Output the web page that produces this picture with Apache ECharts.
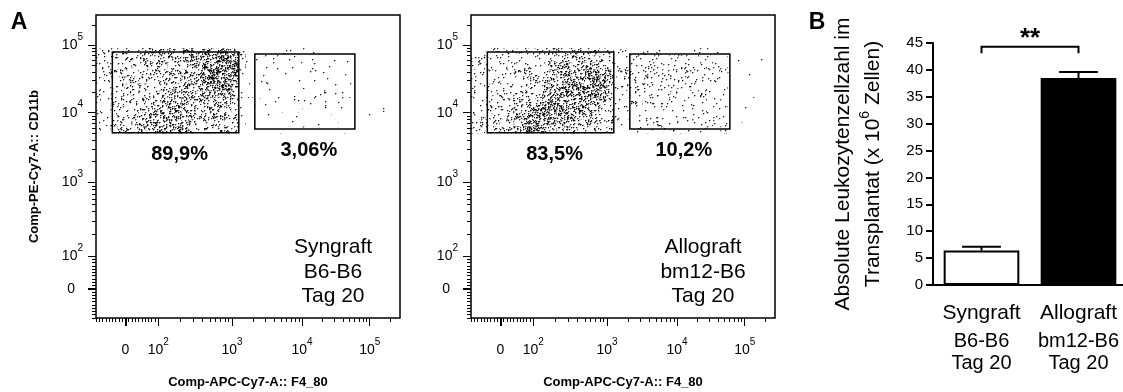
<!DOCTYPE html>
<html>
<head>
<meta charset="utf-8">
<script src="https://cdn.jsdelivr.net/npm/echarts@6.0.0/dist/echarts.min.js"></script>
<style>
html, body { margin: 0; padding: 0; background: #fff; }
#main { width: 1123px; height: 392px; }
</style>
</head>
<body>
<div id="main"></div>
<script>
const FONT = '"Liberation Sans", Arial, Helvetica, sans-serif';

// flow plots, display channels 0-1024 (biexponential scale)
let flowTicks = [99, 209.6, 458, 694, 922];
let flowExp = [0, 2, 3, 4, 5];
let gates = [[55, 481, 626, 899], [535, 872, 639, 892]];
let synPct = ['89,9%', '3,06%'];
let alloPct = ['83,5%', '10,2%'];

// dot density: one digit per 24x24 channel cell, rows from top
let synRows = [
  '33 44444 455556 66 77776 2 1 1 1111111111111 000000',
  '33 43444 445556 67 88997 2 1 1 1111111111111 000000',
  '33 34344 444555 67 89998 2 1 1 1111111111111 000000',
  '23 33434 445556 67 89999 2 1 0 1111111111111 000000',
  '32 34343 445556 67 89998 2 1 1 1111111111111 000000',
  '22 33434 445566 77 88987 2 1 0 1111111111111 000000',
  '22 33343 455666 66 77876 1 1 0 1111111111111 000000',
  '22 33434 556667 66 66765 1 0 0 1011111101110 000000',
  '21 34344 566776 65 55654 1 0 1 1010101101010 000010',
  '22 34445 667776 65 55554 1 0 0 0101010010100 001000',
  '22 44455 677776 55 54544 1 0 0 0100100010010 000000',
  '21 45556 777766 65 55444 0 0 0 0010001000110 000000'
];
let alloRows = [
  '22 33333 333444 44 44433 2 2 1 1212121212111 000100',
  '22 23333 333344 55 55543 2 2 2 3333333332222 010010',
  '32 33333 333445 66 67653 2 2 2 3333333332222 001000',
  '22 23323 334456 67 78875 2 3 3 3333333333222 100100',
  '22 23333 344456 78 89985 3 3 3 3333333332222 010010',
  '22 33332 344567 88 99985 3 3 3 3333333332222 001000',
  '22 23333 445677 88 89875 2 2 2 3333322232222 000101',
  '22 33344 456788 88 87764 2 2 2 2333222222222 010000',
  '22 33445 567888 77 76654 2 2 2 2222222222222 001000',
  '32 34455 678887 76 65544 2 1 2 2222222222222 000100',
  '33 44556 778876 66 55444 2 1 1 2222222222212 001000',
  '33 45667 888876 55 44443 1 1 1 2121212122112 000000'
];

// bar chart B
let groups = ['Syngraft', 'Allograft'];
let donors = ['B6-B6', 'bm12-B6'];
let days = ['Tag 20', 'Tag 20'];
let means = [6.4, 38.5];
let sems = [0.7, 1.1];
let sig = [[0, 44.3, 1, 1.2]];
let sigText = '**';

const CELL = 24;
const CELL_TOP = 912;

let majorTicks = [97, 99, 101].concat(flowTicks.slice(1));
let minorTicks = [];
for (let k = 1; k <= 9; k++) {
  minorTicks.push(flowTicks[0] - k * 11, flowTicks[0] + k * 11.06);
}
for (let i = 1; i < flowTicks.length; i++) {
  let span = (i < flowTicks.length - 1 ? flowTicks[i + 1] : flowTicks[i] + 228) - flowTicks[i];
  for (let k = 2; k <= 9; k++) {
    let t = flowTicks[i] + Math.log10(k) * span;
    if (t < 1024) minorTicks.push(t);
  }
}

// dot textures, one per density level
let dotRate = [0, 0.012, 0.03, 0.058, 0.095, 0.135, 0.18, 0.24, 0.31, 0.39];
let patterns = dotRate.map((r, lv) => {
  let c = document.createElement('canvas');
  c.width = 101;
  c.height = 89;
  let ctx = c.getContext('2d');
  let s = 12345 + lv * 7919;
  let rnd = () => (s = (Math.imul(s, 1664525) + 1013904223) >>> 0) / 4294967296;
  let n = Math.round(r * c.width * c.height);
  for (let k = 0; k < n; k++) {
    let x = Math.floor(rnd() * c.width);
    let y = Math.floor(rnd() * c.height);
    ctx.fillStyle = 'rgba(0,0,0,0.32)';
    ctx.fillRect(x + 1, y, 1, 1);
    ctx.fillRect(x, y + 1, 1, 1);
    ctx.fillStyle = 'rgba(0,0,0,0.88)';
    ctx.fillRect(x, y, 1, 1);
  }
  return { image: c, repeat: 'repeat' };
});

function dotSeries(rows, ax) {
  let data = [];
  rows.forEach((row, j) => {
    row = row.replace(/ /g, '');
    for (let i = 0; i < row.length; i++) {
      let lv = +row[i];
      if (lv) data.push([i * CELL, CELL_TOP - j * CELL, lv]);
    }
  });
  return {
    type: 'custom', xAxisIndex: ax, yAxisIndex: ax, silent: true, clip: true,
    encode: { x: 0, y: 1 },
    data: data,
    renderItem: (p, api) => {
      let a = api.coord([api.value(0), api.value(1)]);
      let b = api.coord([api.value(0) + CELL, api.value(1) - CELL]);
      return {
        type: 'rect',
        shape: { x: a[0], y: a[1], width: b[0] - a[0], height: b[1] - a[1] },
        style: { fill: patterns[api.value(2)] }
      };
    }
  };
}

function gateSeries(pct, ax) {
  return {
    type: 'custom', xAxisIndex: ax, yAxisIndex: ax, silent: true, clip: false,
    encode: { x: [0, 1], y: [2, 3] },
    data: gates,
    renderItem: (p, api) => {
      let a = api.coord([api.value(0), api.value(3)]);
      let b = api.coord([api.value(1), api.value(2)]);
      return {
        type: 'group',
        children: [{
          type: 'rect',
          shape: { x: a[0], y: a[1], width: b[0] - a[0], height: b[1] - a[1] },
          style: { fill: 'none', stroke: '#000', lineWidth: 1.5 }
        }, {
          type: 'text',
          style: {
            text: pct[p.dataIndex], x: (a[0] + b[0]) / 2 + 4, y: b[1] + 22,
            align: 'center', verticalAlign: 'middle', fill: '#000',
            font: 'bold 20px ' + FONT
          }
        }]
      };
    }
  };
}

function tickText(v) {
  let k = flowTicks.findIndex(t => Math.abs(t - v) < 0.01);
  return flowExp[k] ? '{b|10}{s|' + flowExp[k] + '}' : '{z|0}';
}

function richFlow(padZero) {
  return {
    b: { fontSize: 14, lineHeight: 26, verticalAlign: 'middle', fontFamily: FONT, color: '#000' },
    s: { fontSize: 10, lineHeight: 10, verticalAlign: 'top', fontFamily: FONT, color: '#000' },
    z: { fontSize: 14, lineHeight: 26, verticalAlign: 'middle', fontFamily: FONT, color: '#000', padding: [0, padZero, 0, 0] }
  };
}

let nameStyle = { fontFamily: FONT, fontWeight: 'bold', fontSize: 13, color: '#000' };

function flowAxes(g, dim, name) {
  let isX = dim === 'x';
  return [{
    type: 'value', gridIndex: g, min: 0, max: 1024, position: isX ? 'bottom' : 'left',
    axisLine: { show: false, onZero: false },
    splitLine: { show: false },
    axisTick: { show: true, length: 8, customValues: majorTicks, lineStyle: { color: '#000', width: 1 } },
    axisLabel: {
      show: true, customValues: flowTicks, margin: isX ? 19 : 13, formatter: tickText,
      rich: richFlow(isX ? 0 : 8)
    },
    name: name, nameLocation: 'middle', nameGap: isX ? 58 : 55, nameMoveOverlap: false,
    nameTextStyle: nameStyle
  }, {
    type: 'value', gridIndex: g, min: 0, max: 1024, position: isX ? 'bottom' : 'left',
    axisLine: { show: false, onZero: false },
    splitLine: { show: false },
    axisLabel: { show: false },
    axisTick: { show: true, length: 4, customValues: minorTicks, lineStyle: { color: '#000', width: 1 } }
  }];
}

let chart = echarts.init(document.getElementById('main'));
let frame = { show: true, borderColor: '#000', borderWidth: 1.5, backgroundColor: 'transparent', containLabel: false, outerBoundsMode: 'none' };

chart.setOption({
  animation: false,
  backgroundColor: '#fff',
  textStyle: { fontFamily: FONT, color: '#000' },
  grid: [
    Object.assign({ left: 96, top: 15, width: 304, height: 303 }, frame),
    Object.assign({ left: 471, top: 15, width: 304, height: 303 }, frame),
    { left: 933, top: 43, width: 194, height: 242, containLabel: false, outerBoundsMode: 'none' }
  ],
  xAxis: flowAxes(0, 'x', 'Comp-APC-Cy7-A:: F4_80')
    .concat(flowAxes(1, 'x', 'Comp-APC-Cy7-A:: F4_80'))
    .concat([{
      type: 'category', gridIndex: 2, data: groups,
      axisLine: { lineStyle: { color: '#000', width: 2 } },
      axisTick: { alignWithLabel: true, length: 8, lineStyle: { color: '#000', width: 2 } },
      axisLabel: {
        interval: 0, margin: 12,
        formatter: (v, i) => '{a|' + v + '}\n{b|' + donors[i] + '}\n{c|' + days[i] + '}',
        rich: {
          a: { fontSize: 21, lineHeight: 32, fontFamily: FONT, color: '#000' },
          b: { fontSize: 20, lineHeight: 25, fontFamily: FONT, color: '#000' },
          c: { fontSize: 20, lineHeight: 18, fontFamily: FONT, color: '#000' }
        }
      },
      splitLine: { show: false }
    }]),
  yAxis: flowAxes(0, 'y', 'Comp-PE-Cy7-A:: CD11b')
    .concat(flowAxes(1, 'y', ''))
    .concat([{
      type: 'value', gridIndex: 2, min: 0, max: 45, interval: 5,
      axisLine: { show: true, lineStyle: { color: '#000', width: 2 } },
      axisTick: { show: true, length: 7, lineStyle: { color: '#000', width: 2 } },
      axisLabel: { margin: 10, fontSize: 15, color: '#000', fontFamily: FONT },
      splitLine: { show: false },
      name: 'Absolute Leukozytenzellzahl im\nTransplantat (x 10{s|6} Zellen)',
      nameLocation: 'middle', nameRotate: 90, nameGap: 45, nameMoveOverlap: false,
      nameTextStyle: {
        fontSize: 21, lineHeight: 30, fontFamily: FONT, color: '#000',
        rich: { s: { fontSize: 14, lineHeight: 16, verticalAlign: 'top', fontFamily: FONT, color: '#000' } }
      }
    }]),
  graphic: [
    { type: 'text', x: 19, y: 23, style: { text: 'A', font: 'bold 23px ' + FONT, align: 'center', verticalAlign: 'middle', fill: '#000' } },
    { type: 'text', x: 817, y: 23, style: { text: 'B', font: 'bold 23px ' + FONT, align: 'center', verticalAlign: 'middle', fill: '#000' } },
    { type: 'text', x: 333, y: 272, style: { text: 'Syngraft\nB6-B6\nTag 20', font: '21px ' + FONT, lineHeight: 24.5, align: 'center', verticalAlign: 'middle', fill: '#000' } },
    { type: 'text', x: 703, y: 272, style: { text: 'Allograft\nbm12-B6\nTag 20', font: '21px ' + FONT, lineHeight: 24.5, align: 'center', verticalAlign: 'middle', fill: '#000' } }
  ],
  series: [
    dotSeries(synRows, 0),
    gateSeries(synPct, 0),
    dotSeries(alloRows, 2),
    gateSeries(alloPct, 2),
    {
      type: 'bar', xAxisIndex: 4, yAxisIndex: 4, barWidth: '78%', silent: true,
      data: means.map((v, i) => ({
        value: v,
        itemStyle: { color: i ? '#000' : '#fff', borderColor: '#000', borderWidth: 2 }
      }))
    },
    {
      type: 'custom', xAxisIndex: 4, yAxisIndex: 4, silent: true, clip: false,
      encode: { x: 0, y: 1 },
      data: means.map((v, i) => [i, v, sems[i]]),
      renderItem: (p, api) => {
        let base = api.coord([api.value(0), api.value(1)]);
        let top = api.coord([api.value(0), api.value(1) + api.value(2)]);
        let hw = api.size([1, 0])[0] * 0.2;
        return {
          type: 'group',
          children: [
            { type: 'line', shape: { x1: base[0], y1: base[1], x2: top[0], y2: top[1] }, style: { stroke: '#000', lineWidth: 2 } },
            { type: 'line', shape: { x1: top[0] - hw, y1: top[1], x2: top[0] + hw, y2: top[1] }, style: { stroke: '#000', lineWidth: 2 } }
          ]
        };
      }
    },
    {
      type: 'custom', xAxisIndex: 4, yAxisIndex: 4, silent: true, clip: false,
      encode: { x: 0, y: 1 },
      data: sig,
      renderItem: (p, api) => {
        let l = api.coord([api.value(0), api.value(1)]);
        let r = api.coord([api.value(2), api.value(1)]);
        let leg = api.size([0, api.value(3)])[1];
        return {
          type: 'group',
          children: [
            { type: 'polyline', shape: { points: [[l[0], l[1] + leg], l, r, [r[0], r[1] + leg]] }, style: { fill: 'none', stroke: '#000', lineWidth: 2 } },
            { type: 'text', style: { text: sigText, x: (l[0] + r[0]) / 2, y: l[1] - 8, align: 'center', verticalAlign: 'middle', fill: '#000', font: 'bold 26px ' + FONT } }
          ]
        };
      }
    }
  ]
});
</script>
</body>
</html>
